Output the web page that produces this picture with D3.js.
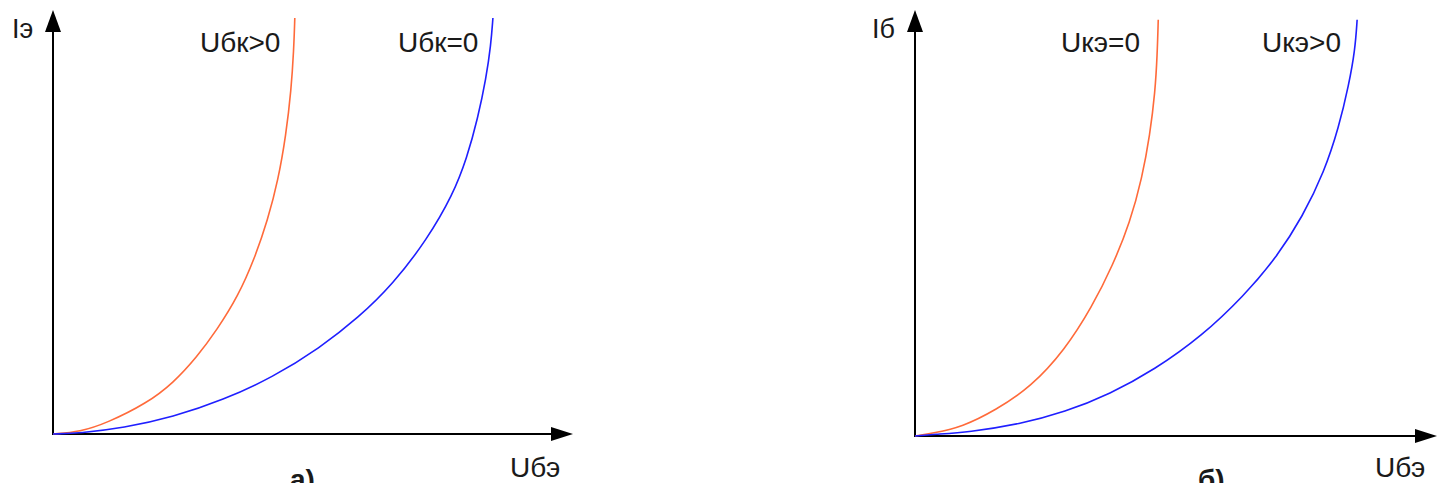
<!DOCTYPE html>
<html>
<head>
<meta charset="utf-8">
<script src="https://cdn.jsdelivr.net/npm/d3@7"></script>
<style>
  body { margin: 0; background: #fff; }
  text { font-family: "Liberation Sans", Arial, sans-serif; fill: #1a1a1a; }
</style>
</head>
<body>
<script>

const m = {
    width: 1439,
    height: 483
}

// a) emitter current vs base-emitter voltage
const curveA1 = [[0,0],[5.2,0.5],[10.4,2.6],[18.1,7.3],[23.1,12.0],[27.7,18.2],[31.5,24.5],[35.6,32.5],
    [38.8,41.5],[41.3,50.5],[43.3,59.9],[44.8,70.5],[45.8,81.1],[46.3,90.6],[46.5,98.1]]
const curveA2 = [[0,0],[5.2,0.2],[13.5,1.4],[23.1,4.0],[32.7,8.0],[42.3,13.4],[51.3,20.3],[58.7,27.4],
    [65.4,35.4],[71.9,45.8],[76.9,56.4],[79.6,65.1],[81.7,74.5],[83.3,84.0],[84.2,91.7],[84.6,98.1]]

// б) base current vs base-emitter voltage
const curveB1 = [[0,0],[3.6,0.7],[9.0,2.1],[15.5,6.1],[22.2,11.5],[28.7,20.2],[33.9,30.3],[37.9,40.1],
    [41.2,50.2],[43.5,60.6],[45.0,70.7],[46.0,80.8],[46.4,89.4],[46.6,97.7]]
const curveB2 = [[0,0],[3.6,0.4],[10.3,0.9],[20.1,2.8],[28.7,5.6],[37.4,9.9],[45.8,15.5],[55.0,23.5],
    [63.0,32.9],[69.2,41.8],[74.3,51.6],[78.4,62.0],[81.2,72.5],[83.1,82.4],[84.3,90.6],[84.7,97.7]]

const yLabels = ['Iэ', 'Iб']
const xLabels = ['Uбэ', 'Uбэ']
const captions = ['а)', 'б)']
const seriesNamesA = ['Uбк>0', 'Uбк=0']
const seriesNamesB = ['Uкэ=0', 'Uкэ>0']

const colors = ['#ff6a3a', '#1f1fff']

const panels = [
    { x0: 53, x1: 573, y0: 434, y1: 10, curves: [curveA1, curveA2], names: seriesNamesA,
      yLab: yLabels[0], xLab: xLabels[0], cap: captions[0],
      yLabX: 12, nameX: [200, 398], xLabX: 510, capX: 290 },
    { x0: 915, x1: 1437, y0: 436, y1: 10, curves: [curveB1, curveB2], names: seriesNamesB,
      yLab: yLabels[1], xLab: xLabels[1], cap: captions[1],
      yLabX: 872, nameX: [1061, 1262], xLabX: 1375, capX: 1198 }
]

const svg = d3.select('body').append('svg')
    .attr('width', m.width)
    .attr('height', m.height)

const head = 22, half = 7

panels.forEach(function(p) {
    const x = d3.scaleLinear().domain([0, 100]).range([p.x0, p.x1])
    const y = d3.scaleLinear().domain([0, 100]).range([p.y0, p.y1])
    const g = svg.append('g')

    // axes with arrow heads
    g.append('line')
        .attr('x1', x(0)).attr('y1', y(0))
        .attr('x2', x(0)).attr('y2', y(100) + head - 2)
        .attr('stroke', '#000').attr('stroke-width', 2)
    g.append('line')
        .attr('x1', x(0) - 1).attr('y1', y(0))
        .attr('x2', x(100) - head + 2).attr('y2', y(0))
        .attr('stroke', '#000').attr('stroke-width', 2)
    g.append('path')
        .attr('d', `M${x(0)},${y(100)} L${x(0) - half - 1},${y(100) + head} L${x(0) + half + 1},${y(100) + head} Z`)
        .attr('fill', '#000')
    g.append('path')
        .attr('d', `M${x(100)},${y(0)} L${x(100) - head},${y(0) - half} L${x(100) - head},${y(0) + half} Z`)
        .attr('fill', '#000')

    const line = d3.line()
        .x(d => x(d[0]))
        .y(d => y(d[1]))
        .curve(d3.curveBasis)

    g.selectAll('.curve')
        .data(p.curves)
        .enter()
        .append('path')
            .attr('d', line)
            .attr('fill', 'none')
            .attr('stroke', (d, i) => colors[i])
            .attr('stroke-width', 1.6)

    g.append('text').attr('x', p.yLabX).attr('y', 38).style('font-size', '27px').text(p.yLab)
    p.names.forEach(function(n, i) {
        g.append('text').attr('x', p.nameX[i]).attr('y', 52).style('font-size', '28px').text(n)
    })
    g.append('text').attr('x', p.xLabX).attr('y', 477).style('font-size', '28px').text(p.xLab)
    g.append('text').attr('x', p.capX).attr('y', 489)
        .style('font-size', '28px').style('font-weight', 'bold').text(p.cap)
})

</script>
</body>
</html>
